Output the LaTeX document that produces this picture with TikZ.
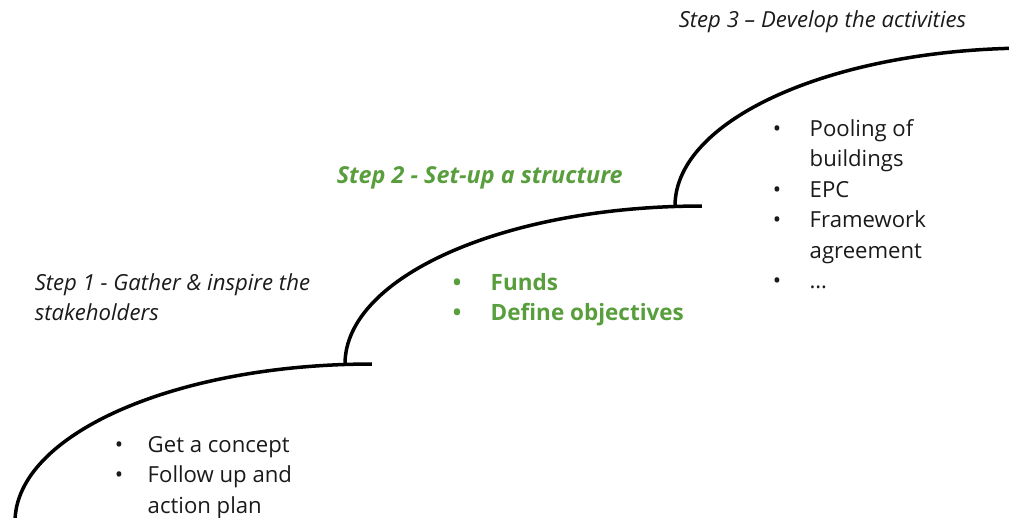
\documentclass[tikz,border=0pt]{standalone}
\usepackage{fontspec}
\setmainfont{Open Sans}
\usetikzlibrary{positioning}
\definecolor{stepgreen}{RGB}{88,158,60}
\definecolor{inkgray}{RGB}{26,26,26}

\begin{document}
\begin{tikzpicture}[
    x = 0.02cm, y = 0.02cm, % one unit is one pixel of the reference
    line width = 0.07cm, % stair line
    every node/.style = {inner sep = 0pt, text = inkgray, font = \fontsize{12.6}{17.4}\selectfont},
    steptitle/.style = {anchor = base west, font = \fontsize{12.6}{17.4}\selectfont\itshape},
    greentitle/.style = {steptitle, text = stepgreen, font = \fontsize{13.3}{17.4}\selectfont\bfseries\itshape},
    itemlist/.style = {anchor = base west}
    ]

    \useasboundingbox (0,0) rectangle (1009,-518);
    \clip (0,0) rectangle (1009,-518);

    % the three stairs
    \draw (15,-522) arc[start angle=180, end angle=90, x radius=7.14cm, y radius=3.16cm];
    \draw (345,-364) arc[start angle=180, end angle=90, x radius=7.14cm, y radius=3.16cm];
    \draw (675,-206) arc[start angle=180, end angle=90, x radius=7.14cm, y radius=3.16cm];

    % titles
    \node[steptitle] (title1) at (33,-290) {\begin{tabular}[t]{@{}l@{}}Step 1 - Gather \& inspire the\\ stakeholders\end{tabular}};
    \node[greentitle] (title2) at (335,-183) {Step 2 - Set-up a structure};
    \node[steptitle] (title3) at (677,-27) {Step 3 – Develop the activities};

    % bullet lists
    \node[itemlist] (list1) at (113,-452) {\begin{tabular}[t]{@{}p{0.66cm}@{}l@{}}
        • & Get a concept\\
        • & Follow up and\\
          & action plan
    \end{tabular}};
    \node[itemlist, text = stepgreen, font = \fontsize{12.8}{17.4}\selectfont\bfseries] (list2) at (451,-290) {\begin{tabular}[t]{@{}p{0.76cm}@{}l@{}}
        • & Funds\\
        • & Define objectives
    \end{tabular}};
    \node[itemlist] (list3) at (771,-136) {\begin{tabular}[t]{@{}p{0.74cm}@{}l@{}}
        • & Pooling of\\
          & buildings\\
        • & EPC\\
        • & Framework\\
          & agreement\\
        • & …
    \end{tabular}};
\end{tikzpicture}
\end{document}
